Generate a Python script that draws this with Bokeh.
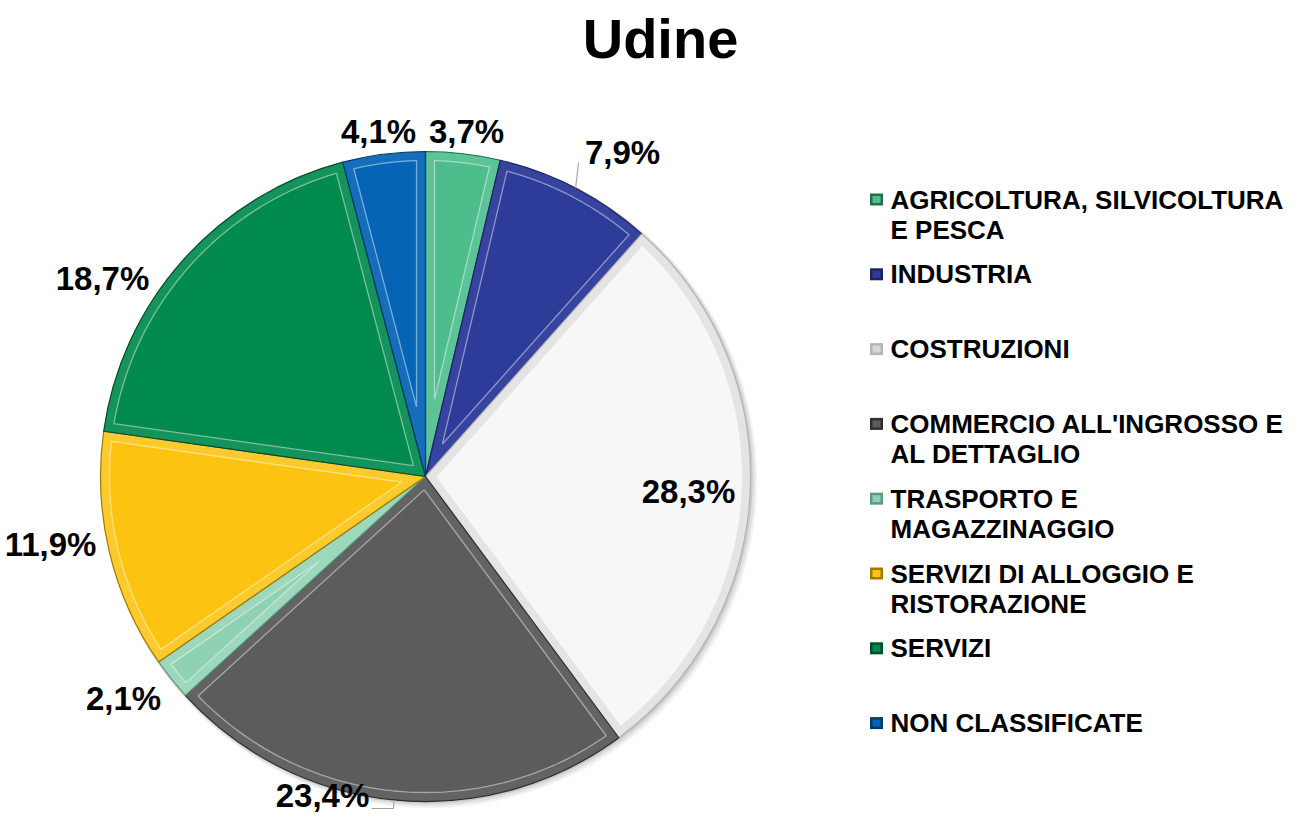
import numpy as np
from bokeh.plotting import figure
from bokeh.models import Range1d
from bokeh.core.properties import value
from bokeh.embed import file_html
from bokeh.resources import INLINE

# ---------------- data ----------------
TITLE = "Udine"
CATEGORIES = [
    "AGRICOLTURA, SILVICOLTURA\nE PESCA",
    "INDUSTRIA",
    "COSTRUZIONI",
    "COMMERCIO ALL'INGROSSO E\nAL DETTAGLIO",
    "TRASPORTO E\nMAGAZZINAGGIO",
    "SERVIZI DI ALLOGGIO E\nRISTORAZIONE",
    "SERVIZI",
    "NON CLASSIFICATE",
]
VALUES = [3.7, 7.9, 28.3, 23.4, 2.1, 11.9, 18.7, 4.1]
VALUE_LABELS = ["3,7%", "7,9%", "28,3%", "23,4%", "2,1%", "11,9%", "18,7%", "4,1%"]

# ---------------- style / layout ----------------
COLORS = ["#4dbd8c", "#2e3c99", "#f7f7f7", "#5c5c5c", "#8fd1b3", "#fcc410", "#008a4e", "#0564b5"]
BAND = ["#5cc497", "#3644a0", "#e4e4e4", "#636363", "#9dd7bc", "#fcca2c", "#15935c", "#166ebb"]
EDGE = ["#1f6e4c", "#1b245e", "#b5b5b5", "#2e2e2e", "#5a9c7e", "#a07a00", "#004d2b", "#033a6a"]

W, H = 1288, 816
def X(px):
    return px
def Y(py):
    return H - py

CX, CY, R = X(425), Y(476), 325.0
INSET = 9.0
FONT = value("Liberation Sans")

# label anchor points (image pixels) for the value labels
LABEL_XY = [(466, 131), (622, 152), (688, 491), (322, 795), (123, 698), (50, 544), (102, 278), (378, 131)]
LEADER = {1: (578, 162), 3: (393, 808)}

p = figure(width=W, height=H, x_range=Range1d(0, W), y_range=Range1d(0, H),
           output_backend="svg", toolbar_location=None, min_border=0,
           x_axis_type=None, y_axis_type=None)
p.grid.visible = False
p.outline_line_color = None
p.background_fill_color = "white"
p.border_fill_color = "white"

total = sum(VALUES)
cum = np.concatenate([[0], np.cumsum(VALUES)])
starts = np.pi / 2 - 2 * np.pi * cum[:-1] / total
ends = np.pi / 2 - 2 * np.pi * cum[1:] / total

# soft shadow
for k, a in [(6, 0.05), (4, 0.07), (2, 0.10)]:
    p.circle(x=CX + k * 0.6, y=CY - k * 0.6, radius=R + k * 0.5, fill_color="black",
             fill_alpha=a, line_color=None)

# wedges (bevel band colour)
p.wedge(x=CX, y=CY, radius=R, start_angle=list(starts), end_angle=list(ends), direction="clock",
        fill_color=BAND, line_color=EDGE, line_width=1.2)

# inset faces
xs_all, ys_all = [], []
for s, e in zip(starts, ends):
    h = (s - e) / 2
    m = (s + e) / 2
    apex_d = INSET / np.sin(h)
    ax, ay = CX + apex_d * np.cos(m), CY + apex_d * np.sin(m)
    rr = R - INSET
    dl = np.arcsin(INSET / rr)
    th = np.linspace(s - dl, e + dl, 80)
    xs_all.append([ax] + list(CX + rr * np.cos(th)))
    ys_all.append([ay] + list(CY + rr * np.sin(th)))
p.patches(xs_all, ys_all, fill_color=COLORS, line_color="white", line_alpha=0.45, line_width=1.3)

# value labels and leader lines
for i, (lx, ly) in enumerate(LABEL_XY):
    if i in LEADER:
        mid = (starts[i] + ends[i]) / 2
        ex, ey = CX + R * np.cos(mid), CY + R * np.sin(mid)
        tx, ty = LEADER[i]
        if i == 3:
            p.line([ex, X(tx), X(tx) - 22], [ey, Y(ty), Y(ty)], line_color="#a6a6a6", line_width=1.2)
        else:
            p.line([ex, X(tx)], [ey, Y(ty)], line_color="#a6a6a6", line_width=1.2)
    p.text(x=[X(lx)], y=[Y(ly)], text=[VALUE_LABELS[i]], text_font=FONT, text_font_style="bold",
           text_font_size="33px", text_align="center", text_baseline="middle", text_color="black")

# title
p.text(x=[X(660)], y=[Y(38)], text=[TITLE], text_font=FONT, text_font_style="bold",
       text_font_size="56px", text_align="center", text_baseline="middle", text_color="black")

# legend
ROW0, STEP, LINE_H = 199, 74.8, 30
for i, cat in enumerate(CATEGORIES):
    ry = ROW0 + i * STEP
    p.rect(x=[X(876)], y=[Y(ry)], width=13, height=12, width_units="screen", height_units="screen",
           fill_color=EDGE[i], line_color=None)
    p.rect(x=[X(876)], y=[Y(ry)], width=8, height=7, width_units="screen", height_units="screen",
           fill_color=COLORS[i] if i != 2 else "#d8d8d8", line_color=None)
    for j, line in enumerate(cat.split("\n")):
        p.text(x=[X(890)], y=[Y(ry + j * LINE_H)], text=[line], text_font=FONT, text_font_style="bold",
               text_font_size="26px", text_align="left", text_baseline="middle", text_color="black")

open("out.html", "w").write(file_html(p, INLINE))
